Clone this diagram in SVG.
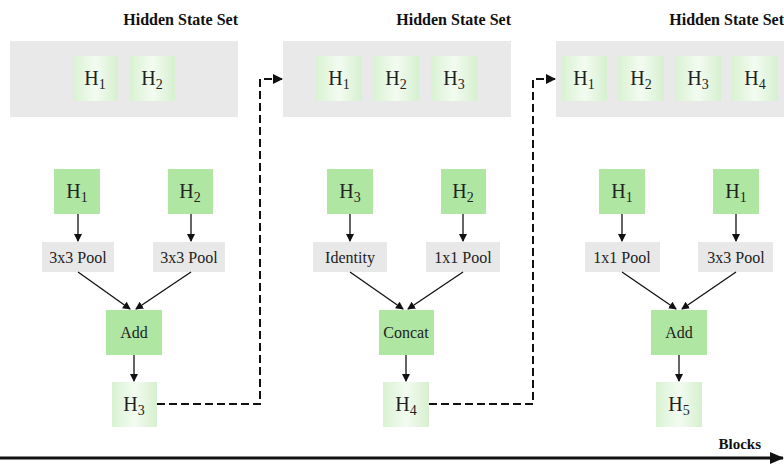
<svg xmlns="http://www.w3.org/2000/svg" width="784" height="464" viewBox="0 0 784 464">
<style>
.panel{fill:#e9e9e9}
.title{font-family:"Liberation Serif",serif;font-weight:bold;font-size:16px;fill:#111;text-anchor:end}
.st{fill:url(#lg)}
.gn{fill:#aee6a2}
.op{fill:#e8e8e8}
.h{font-family:"Liberation Serif",serif;font-size:20px;fill:#222;text-anchor:middle}
.sub{font-size:14px}
.lbl{font-family:"Liberation Serif",serif;font-size:16px;fill:#222;text-anchor:middle}
.ar{stroke:#111;stroke-width:1.3;fill:none;marker-end:url(#ah)}
.da{stroke:#111;stroke-width:2;fill:none;stroke-dasharray:8,4;marker-end:url(#ah2)}
</style>
<defs>
<linearGradient id="lg" x1="0" y1="0" x2="1" y2="0">
<stop offset="0" stop-color="#d9f2d2"/>
<stop offset="0.5" stop-color="#f3fbf1"/>
<stop offset="1" stop-color="#d6f0cf"/>
</linearGradient>
<marker id="ah" markerWidth="8" markerHeight="8" refX="7" refY="4" orient="auto" markerUnits="userSpaceOnUse"><path d="M0,0 L8,4 L0,8 Z" fill="#111"/></marker>
<marker id="ah2" markerWidth="10" markerHeight="10" refX="9" refY="5" orient="auto" markerUnits="userSpaceOnUse"><path d="M0,0 L10,5 L0,10 Z" fill="#111"/></marker>
<marker id="ah3" markerWidth="14" markerHeight="12" refX="13" refY="6" orient="auto" markerUnits="userSpaceOnUse"><path d="M0,0 L14,6 L0,12 Z" fill="#111"/></marker>
</defs>

<g id="panel1">
<text class="title" x="238" y="25">Hidden State Set</text>
<rect class="panel" x="10" y="41" width="228" height="76"/>
<rect class="st" x="73" y="56" width="45" height="45"/><text class="h" x="95" y="85">H<tspan class="sub" dy="4">1</tspan></text>
<rect class="st" x="130" y="56" width="45" height="45"/><text class="h" x="152" y="85">H<tspan class="sub" dy="4">2</tspan></text>
</g>
<g id="panel2">
<text class="title" x="511" y="25">Hidden State Set</text>
<rect class="panel" x="283" y="41" width="228" height="76"/>
<rect class="st" x="316" y="56" width="46" height="45"/><text class="h" x="339" y="85">H<tspan class="sub" dy="4">1</tspan></text>
<rect class="st" x="373" y="56" width="46" height="45"/><text class="h" x="396" y="85">H<tspan class="sub" dy="4">2</tspan></text>
<rect class="st" x="431" y="56" width="46" height="45"/><text class="h" x="454" y="85">H<tspan class="sub" dy="4">3</tspan></text>
</g>
<g id="panel3">
<text class="title" x="784" y="25">Hidden State Set</text>
<rect class="panel" x="556" y="41" width="228" height="76"/>
<rect class="st" x="562" y="56" width="45" height="45"/><text class="h" x="584" y="85">H<tspan class="sub" dy="4">1</tspan></text>
<rect class="st" x="618" y="56" width="46" height="45"/><text class="h" x="641" y="85">H<tspan class="sub" dy="4">2</tspan></text>
<rect class="st" x="675" y="56" width="46" height="45"/><text class="h" x="698" y="85">H<tspan class="sub" dy="4">3</tspan></text>
<rect class="st" x="732" y="56" width="46" height="45"/><text class="h" x="755" y="85">H<tspan class="sub" dy="4">4</tspan></text>
</g>

<g id="b1-in1"><rect class="gn" x="54" y="169" width="46" height="45"/><text class="h" x="77" y="198">H<tspan class="sub" dy="4">1</tspan></text></g>
<g id="b1-in2"><rect class="gn" x="168" y="169" width="45" height="45"/><text class="h" x="190" y="198">H<tspan class="sub" dy="4">2</tspan></text></g>
<g id="b1-op1"><rect class="op" x="42" y="242" width="72" height="30"/><text class="lbl" x="78" y="263">3x3 Pool</text></g>
<g id="b1-op2"><rect class="op" x="153" y="242" width="72" height="30"/><text class="lbl" x="189" y="263">3x3 Pool</text></g>
<g id="b1-comb"><rect class="gn" x="106" y="310" width="56" height="45"/><text class="lbl" x="134" y="338">Add</text></g>
<g id="b1-out"><rect class="st" x="112" y="382" width="45" height="45"/><text class="h" x="134" y="411">H<tspan class="sub" dy="4">3</tspan></text></g>

<g id="b2-in1"><rect class="gn" x="327" y="169" width="46" height="45"/><text class="h" x="350" y="198">H<tspan class="sub" dy="4">3</tspan></text></g>
<g id="b2-in2"><rect class="gn" x="441" y="169" width="45" height="45"/><text class="h" x="463" y="198">H<tspan class="sub" dy="4">2</tspan></text></g>
<g id="b2-op1"><rect class="op" x="313" y="242" width="74" height="30"/><text class="lbl" x="350" y="263">Identity</text></g>
<g id="b2-op2"><rect class="op" x="426" y="242" width="74" height="30"/><text class="lbl" x="463" y="263">1x1 Pool</text></g>
<g id="b2-comb"><rect class="gn" x="379" y="310" width="55" height="45"/><text class="lbl" x="406" y="338">Concat</text></g>
<g id="b2-out"><rect class="st" x="383" y="382" width="46" height="45"/><text class="h" x="406" y="411">H<tspan class="sub" dy="4">4</tspan></text></g>

<g id="b3-in1"><rect class="gn" x="599" y="169" width="46" height="45"/><text class="h" x="622" y="198">H<tspan class="sub" dy="4">1</tspan></text></g>
<g id="b3-in2"><rect class="gn" x="713" y="169" width="46" height="45"/><text class="h" x="736" y="198">H<tspan class="sub" dy="4">1</tspan></text></g>
<g id="b3-op1"><rect class="op" x="585" y="242" width="75" height="30"/><text class="lbl" x="622" y="263">1x1 Pool</text></g>
<g id="b3-op2"><rect class="op" x="698" y="242" width="75" height="30"/><text class="lbl" x="736" y="263">3x3 Pool</text></g>
<g id="b3-comb"><rect class="gn" x="651" y="310" width="56" height="45"/><text class="lbl" x="679" y="338">Add</text></g>
<g id="b3-out"><rect class="st" x="656" y="382" width="46" height="45"/><text class="h" x="679" y="411">H<tspan class="sub" dy="4">5</tspan></text></g>

<g id="axis-label"><text x="761" y="449" style="font-family:'Liberation Serif',serif;font-weight:bold;font-size:15px;fill:#111;text-anchor:end">Blocks</text></g>

<g id="connectors">
<line class="ar" x1="78" y1="214" x2="78" y2="241"/>
<line class="ar" x1="191" y1="214" x2="191" y2="241"/>
<line class="ar" x1="78" y1="272" x2="130" y2="309"/>
<line class="ar" x1="191" y1="272" x2="136" y2="309"/>
<line class="ar" x1="134" y1="355" x2="134" y2="381"/>
<line class="ar" x1="350" y1="214" x2="350" y2="241"/>
<line class="ar" x1="463" y1="214" x2="463" y2="241"/>
<line class="ar" x1="350" y1="272" x2="403" y2="309"/>
<line class="ar" x1="463" y1="272" x2="408" y2="309"/>
<line class="ar" x1="406" y1="355" x2="406" y2="381"/>
<line class="ar" x1="622" y1="214" x2="622" y2="241"/>
<line class="ar" x1="736" y1="214" x2="736" y2="241"/>
<line class="ar" x1="622" y1="272" x2="676" y2="309"/>
<line class="ar" x1="736" y1="272" x2="682" y2="309"/>
<line class="ar" x1="679" y1="355" x2="679" y2="381"/>
<path class="da" d="M157,404 H260 V79 H282"/>
<path class="da" d="M429,404 H533 V79 H555"/>
<line x1="0" y1="458" x2="783" y2="458" stroke="#111" stroke-width="3" marker-end="url(#ah3)"/>
</g>
</svg>
